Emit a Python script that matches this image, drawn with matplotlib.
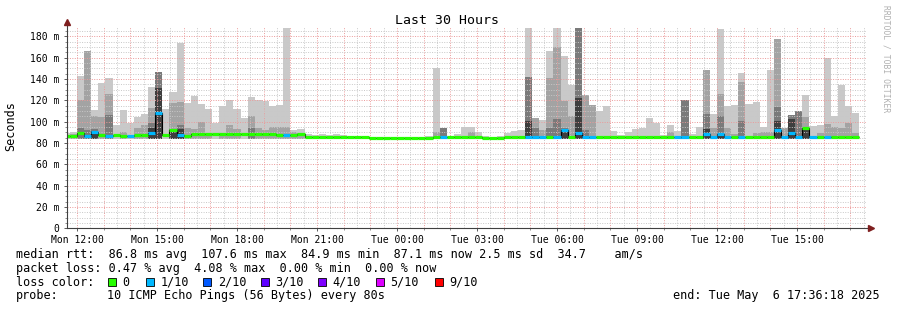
import numpy as np
import pandas as pd
import matplotlib
matplotlib.use('Agg')
import matplotlib.pyplot as plt
import matplotlib.dates as mdates
from matplotlib.patches import Rectangle

# 16 minute consolidated steps (first one is clipped by the window start)
bar_start = pd.date_range('2025-05-05 11:28', periods=112, freq='16min')

median = [87, 87, 89, 86.5, 90, 87.5, 86.5, 87.5, 86.5, 86.5,
          87.5, 87.5, 89.5, 108, 87.5, 92, 87.5, 87, 88.5, 88.5,
          88, 88, 88, 88, 88.5, 88.5, 88.5, 88, 88, 88,
          87.5, 87.5, 87.5, 88.5, 86, 86, 86, 86, 86, 86,
          85.5, 85.5, 85.5, 85, 85, 85, 85, 85, 85, 85,
          85, 85, 86, 86, 86, 86, 86, 86, 85.5, 85,
          85, 85, 86, 86, 86, 86, 86, 86, 86, 86,
          91.7, 86, 89.5, 86, 86, 86, 85.5, 86, 85.5, 85.5,
          86, 86, 86, 86, 86, 86, 86, 86, 86, 86,
          88.5, 86, 88.5, 86, 86, 86, 86, 86, 86, 86,
          92.4, 86, 89, 86, 94, 86, 86, 86, 86, 86,
          86, 86]

# lost pings out of 10 for each step
loss = [0, 0, 0, 1, 1, 0, 1, 0, 0, 1,
        0, 0, 1, 1, 0, 0, 1, 0, 0, 0,
        0, 0, 0, 0, 0, 0, 0, 0, 0, 0,
        0, 1, 0, 0, 0, 0, 0, 0, 0, 0,
        0, 0, 0, 0, 0, 0, 0, 0, 0, 0,
        0, 0, 0, 1, 0, 0, 0, 0, 0, 0,
        0, 0, 0, 0, 0, 1, 1, 1, 0, 1,
        1, 0, 1, 1, 1, 0, 0, 0, 0, 0,
        0, 0, 0, 0, 0, 0, 1, 1, 0, 0,
        1, 1, 1, 1, 0, 1, 0, 0, 0, 0,
        1, 1, 1, 1, 0, 1, 0, 1, 0, 0,
        0, 0]

# smoke: top of each gray band (0 = band not shown), light -> dark
smoke_light = [89, 90, 143, 166.5, 111, 136, 141, 97, 111, 98.7,
               104, 107, 132.5, 146.5, 112, 127.7, 173.6, 117.4, 123.7, 116.5,
               111.8, 98.7, 114.3, 120.5, 112, 103.5, 123, 120.5, 119.5, 115,
               116, 188, 92.4, 93, 88, 87.5, 88, 87.5, 88.4, 87.5,
               87, 86.5, 86.5, 86, 86, 86, 86, 86, 86, 86,
               86, 87, 150.2, 94, 87, 88, 95, 95, 90, 87,
               86, 87, 89.4, 91.5, 92.4, 188, 103.5, 101.8, 166, 188,
               161.8, 134.6, 188, 125.2, 115.2, 109.6, 114.3, 90.9, 87.5, 90,
               93.4, 94, 103.5, 98.7, 87.5, 96.5, 90.9, 120.5, 88, 95,
               148.7, 107, 186.8, 115, 115.5, 145.5, 116.5, 118.4, 95, 148.7,
               177.4, 94, 105.8, 110.2, 125.2, 96.2, 96.5, 159.6, 105.5, 134.6,
               114.3, 108]
smoke_mid = [0, 88, 120.5, 166.5, 105, 104, 126, 0, 90, 0,
             94, 97, 113, 146.5, 0, 117.4, 118.4, 94, 93.4, 99.3,
             89, 0, 89, 97, 93, 0, 105.5, 94, 92, 94.6,
             95.2, 95.2, 90, 89, 0, 0, 0, 0, 0, 0,
             0, 0, 0, 0, 0, 0, 0, 0, 0, 0,
             0, 0, 90, 94, 0, 0, 0, 90, 0, 0,
             0, 0, 0, 0, 0, 141.8, 103.5, 92, 141, 169.6,
             119, 105.5, 188, 125.2, 115.2, 0, 0, 0, 0, 0,
             0, 0, 0, 0, 0, 90, 0, 120.5, 0, 0,
             148.7, 94, 125.8, 94, 88, 136.8, 0, 89, 90, 90,
             177.4, 94, 105.8, 110.2, 104.3, 0, 89, 97.7, 94.6, 94.4,
             98.7, 89]
smoke_dark = [0, 0, 94, 92, 93, 0, 106.5, 0, 0, 0,
              0, 0, 98.7, 146.5, 0, 93.4, 97, 0, 0, 0,
              0, 0, 0, 0, 0, 0, 94, 0, 0, 0,
              0, 0, 0, 0, 0, 0, 0, 0, 0, 0,
              0, 0, 0, 0, 0, 0, 0, 0, 0, 0,
              0, 0, 0, 94, 0, 0, 0, 0, 0, 0,
              0, 0, 0, 0, 0, 141.8, 94, 0, 94, 102.5,
              94, 0, 188, 92.4, 0, 0, 0, 0, 0, 0,
              0, 0, 0, 0, 0, 0, 0, 120.5, 0, 0,
              107, 0, 105.5, 0, 0, 101, 0, 0, 0, 0,
              113.7, 0, 105.8, 110.2, 94, 0, 0, 0, 0, 0,
              0, 0]
smoke_core = [0, 0, 0, 0, 91, 0, 0, 0, 0, 0,
              0, 0, 94, 132, 0, 92, 93, 0, 0, 0,
              0, 0, 0, 0, 0, 0, 0, 0, 0, 0,
              0, 0, 0, 0, 0, 0, 0, 0, 0, 0,
              0, 0, 0, 0, 0, 0, 0, 0, 0, 0,
              0, 0, 0, 0, 0, 0, 0, 0, 0, 0,
              0, 0, 0, 0, 0, 101, 0, 0, 0, 0,
              92, 0, 122, 0, 0, 0, 0, 0, 0, 0,
              0, 0, 0, 0, 0, 0, 0, 0, 0, 0,
              93, 0, 89, 0, 0, 0, 0, 0, 0, 0,
              100.3, 0, 102.7, 0, 93, 0, 0, 0, 0, 0,
              0, 0]

loss_keys = [0, 1, 2, 3, 4, 5, 9]
loss_labels = ['0', '1/10', '2/10', '3/10', '4/10', '5/10', '9/10']
loss_colors = ['#26ff00', '#00b8ff', '#0059ff', '#5e00ff', '#7e00ff', '#dd00ff', '#ff0000']

W, H = 897, 310
plt.rcParams['font.family'] = 'DejaVu Sans Mono'

fig = plt.figure(figsize=(W / 100, H / 100), dpi=100)
ax = fig.add_axes([66.5 / W, 1 - 228.3 / H, 800 / W, 201.6 / H])

t0 = mdates.date2num(pd.Timestamp('2025-05-05 11:36:18'))
t1 = mdates.date2num(pd.Timestamp('2025-05-06 17:36:18'))
ax.set_xlim(t0, t1)
ax.set_ylim(0, 189)

x = mdates.date2num(bar_start.to_pydatetime())
w = 16 / 1440.0
base = 83.5

# smoke bands
for vals, col in zip([smoke_light, smoke_mid, smoke_dark, smoke_core],
                     ['#c9c9c9', '#a3a3a3', '#7a7a7a', '#3e3e3e']):
    v = np.array(vals, dtype=float)
    m = v > 0
    ax.bar(x[m], v[m] - base, bottom=base, width=w, align='edge',
           color=col, linewidth=0, antialiased=False, zorder=2)

# grid (drawn over the smoke like rrdtool does)
dot = (0, (1, 1.5))
for t in pd.date_range('2025-05-05 11:30', '2025-05-06 17:30', freq='30min'):
    if t.minute == 0:
        ax.axvline(mdates.date2num(t), color='#eb9a9a', lw=0.7, ls=dot, zorder=3)
    else:
        ax.axvline(mdates.date2num(t), color='#c8c8c8', lw=0.7, ls=dot, zorder=3)
for yv in range(5, 190, 5):
    if yv % 20 == 0:
        ax.axhline(yv, color='#eb9a9a', lw=0.7, ls=dot, zorder=3)
    else:
        ax.axhline(yv, color='#c8c8c8', lw=0.7, ls=dot, zorder=3)

# median line: thin black stair + loss coloured segments
edges = np.append(x, x[-1] + w)
ax.stairs(median, edges, baseline=None, color='black', lw=0.8, zorder=4)
seg_cols = [loss_colors[loss_keys.index(l)] for l in loss]
ax.hlines(median, x, x + w, colors=seg_cols, lw=2.3, zorder=5)

# axes lines and arrows
for s in ax.spines.values():
    s.set_visible(False)
ax.plot([0, 0], [0, 1.02], transform=ax.transAxes, color='#404040', lw=0.8,
        clip_on=False, zorder=6)
ax.plot([0, 1.004], [0, 0], transform=ax.transAxes, color='#404040', lw=0.8,
        clip_on=False, zorder=6)
ax.plot([0], [1.025], marker='^', ms=4, color='#7f1f1f', transform=ax.transAxes,
        clip_on=False, zorder=7)
ax.plot([1.005], [0], marker='>', ms=4, color='#7f1f1f', transform=ax.transAxes,
        clip_on=False, zorder=7)

# ticks
ax.set_yticks(range(0, 181, 20))
ax.set_yticklabels(['0'] + ['%d m' % v for v in range(20, 181, 20)])
ax.set_yticks(range(0, 190, 5), minor=True)
ax.xaxis.set_major_locator(mdates.HourLocator(byhour=range(0, 24, 3)))
ax.xaxis.set_major_formatter(mdates.DateFormatter('%a %H:%M'))
ax.xaxis.set_minor_locator(mdates.HourLocator())
ax.tick_params(axis='both', which='major', labelsize=7, length=2, width=0.6, color='#404040')
ax.tick_params(axis='both', which='minor', length=1.5, width=0.5, color='#606060')
ax.tick_params(axis='y', which='major', pad=3)
ax.tick_params(axis='x', which='major', pad=3)

# texts
fig.text(447 / W, 1 - 20 / H, 'Last 30 Hours', ha='center', va='center', fontsize=9.5)
fig.text(11 / W, 1 - 126 / H, 'Seconds', rotation=90, ha='center', va='center', fontsize=8.5)
fig.text(886 / W, 1 - 59 / H, 'RRDTOOL / TOBI OETIKER', rotation=270, ha='center',
         va='center', fontsize=5.8, color='#b0b0b0')

fs = 8.5
fig.text(16 / W, 1 - 254.3 / H,
         'median rtt:  86.8 ms avg  107.6 ms max  84.9 ms min  87.1 ms now 2.5 ms sd  34.7    am/s',
         va='center', fontsize=fs)
fig.text(16 / W, 1 - 268.3 / H,
         'packet loss: 0.47 % avg  4.08 % max  0.00 % min  0.00 % now',
         va='center', fontsize=fs)
fig.text(16 / W, 1 - 282.3 / H, 'loss color:', va='center', fontsize=fs)
sq_x = [108, 145.7, 203.3, 261, 318.3, 376, 435]
for sx, lab, col in zip(sq_x, loss_labels, loss_colors):
    fig.patches.append(Rectangle((sx / W, 1 - 286.3 / H), 8 / W, 8 / H,
                                 transform=fig.transFigure, facecolor=col,
                                 edgecolor='black', lw=0.6))
    fig.text((sx + 14.5) / W, 1 - 282.3 / H, lab, va='center', fontsize=fs)
fig.text(16 / W, 1 - 296 / H, 'probe:', va='center', fontsize=fs)
fig.text(107.3 / W, 1 - 296 / H, '10 ICMP Echo Pings (56 Bytes) every 80s',
         va='center', fontsize=fs)
fig.text(880 / W, 1 - 296 / H, 'end: Tue May  6 17:36:18 2025', ha='right',
         va='center', fontsize=fs)

fig.savefig('out.png', dpi=100)
